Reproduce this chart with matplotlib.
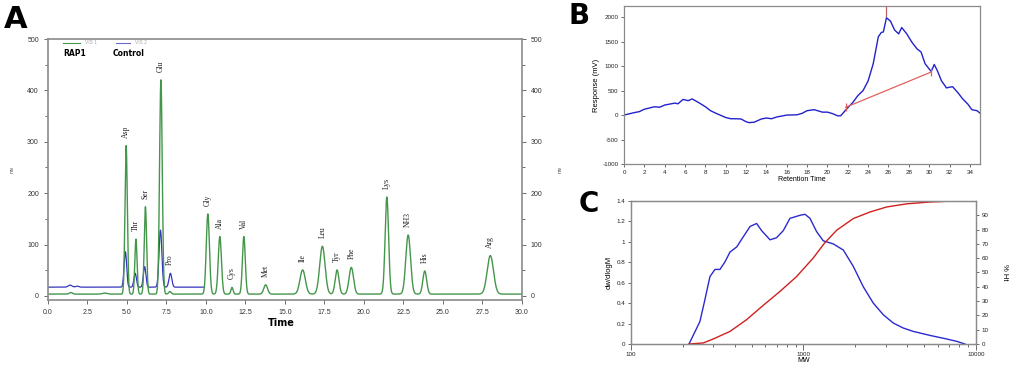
import numpy as np
import matplotlib
matplotlib.use("Agg")
import matplotlib.pyplot as plt
from matplotlib.ticker import FixedLocator, NullFormatter

plt.rcParams['font.family'] = ['Liberation Sans', 'DejaVu Sans']
plt.rcParams['axes.unicode_minus'] = False

# ---------------------------------------------------------------------------
# Panel A: amino acid chromatogram, peak table (time min, height mV, sigma min)
aa_names = ['Asp', 'Thr', 'Ser', 'Glu', 'Pro', 'Gly', 'Ala', 'Cys', 'Val', 'Met',
            'Ile', 'Leu', 'Tyr', 'Phe', 'Lys', 'NH3', 'His', 'Arg']
rap1_time = [4.95, 5.57, 6.17, 7.15, 7.72, 10.12, 10.88, 11.65, 12.40, 13.78,
             16.12, 17.37, 18.30, 19.20, 21.45, 22.80, 23.85, 28.00]
rap1_height = [289, 107, 170, 417, 5, 156, 112, 13, 112, 18,
               47, 93, 47, 52, 189, 115, 45, 75]
rap1_sigma = [0.075, 0.07, 0.075, 0.085, 0.08, 0.10, 0.10, 0.07, 0.09, 0.12,
              0.17, 0.17, 0.12, 0.14, 0.11, 0.15, 0.12, 0.20]
rap1_baseline = 3.5
# small baseline bumps of the RAP1 trace
rap1_bump_time = [1.45, 3.6]
rap1_bump_height = [3, 2]

ctrl_time = [1.40, 1.85, 4.90, 5.52, 6.12, 7.12, 7.75]
ctrl_height = [4, 2, 69, 27, 40, 111, 27]
ctrl_sigma = [0.12, 0.10, 0.08, 0.08, 0.08, 0.09, 0.09]
ctrl_baseline = 17
ctrl_end = 9.9

# label height above peak (mV) for each amino acid label
label_peak = [292, 111, 174, 420, 45, 160, 116, 17, 116, 22,
              51, 97, 51, 56, 193, 119, 49, 79]

# ---------------------------------------------------------------------------
# Panel B: response vs retention time
b_time = [0, 1, 1.5, 2, 3, 3.5, 4, 5, 5.3, 5.8, 6.3, 6.7, 7.3, 8, 8.5, 9, 10,
          10.5, 11, 11.5, 12, 12.3, 12.8, 13.5, 14, 14.5, 15, 16, 17, 17.5, 18,
          18.7, 19.5, 20, 20.5, 21, 21.3, 21.8, 22.5, 23, 23.5, 24, 24.5, 25,
          25.3, 25.5, 25.8, 26.2, 26.6, 27, 27.3, 27.8, 28.3, 28.8, 29.2, 29.6,
          30.2, 30.5, 30.8, 31.2, 31.7, 32, 32.3, 32.8, 33.3, 33.8, 34.2, 34.7, 35]
b_resp = [0, 50, 70, 120, 170, 160, 205, 245, 230, 320, 295, 330, 260, 170, 90,
          40, -50, -75, -75, -80, -135, -155, -145, -80, -60, -75, -40, 0, 5, 35,
          90, 110, 60, 60, 30, -15, -15, 105, 260, 400, 500, 700, 1050, 1600,
          1690, 1700, 1990, 1920, 1740, 1660, 1790, 1660, 1490, 1355, 1290, 1050,
          890, 1035, 910, 705, 555, 570, 580, 465, 330, 225, 110, 90, 40]
b_base_time = [21.8, 30.2]
b_base_resp = [160, 880]
b_apex_time = 25.75

# ---------------------------------------------------------------------------
# Panel C: molecular weight distribution
c_mw = [217, 235, 251, 268, 287, 307, 328, 351, 375, 410, 448, 490, 535, 572,
        640, 698, 764, 835, 955, 1021, 1091, 1192, 1303, 1489, 1702, 1945, 2223,
        2541, 2904, 3319, 3793, 4335, 5412, 6761, 7727, 8633]
c_dwdlogm = [0, 0.12, 0.22, 0.43, 0.66, 0.73, 0.73, 0.805, 0.90, 0.95, 1.05,
             1.15, 1.18, 1.11, 1.02, 1.04, 1.11, 1.23, 1.26, 1.27, 1.23, 1.10,
             1.01, 0.98, 0.92, 0.76, 0.56, 0.40, 0.286, 0.205, 0.156, 0.123,
             0.084, 0.049, 0.026, 0]
c_cum_mw = [217, 262, 300, 375, 468, 584, 730, 910, 1137, 1330, 1560, 1945,
            2430, 3030, 3960, 5410, 6760, 8630]
c_cum_pct = [0, 0.7, 3.5, 8.8, 17, 27, 36.7, 47, 60, 70.8, 79.6, 87.7, 92.3,
             95.8, 98, 99.3, 99.8, 100]


def trace(t, times, heights, sigmas):
    y = np.zeros_like(t)
    for t0, h, s in zip(times, heights, sigmas):
        y += h * np.exp(-0.5 * ((t - t0) / s) ** 2)
    return y


fig = plt.figure(figsize=(10.2, 3.75), dpi=100)

# ---------------------------------------------------------------- Panel A
axA = fig.add_axes([0.047, 0.2, 0.4647, 0.696])
t = np.linspace(0, 30, 6000)
green = rap1_baseline + trace(t, rap1_time, rap1_height, rap1_sigma) \
    + trace(t, rap1_bump_time, rap1_bump_height, [0.1, 0.15])
tb = t[t <= ctrl_end]
blue = ctrl_baseline + trace(tb, ctrl_time, ctrl_height, ctrl_sigma)

axA.plot(tb, blue, color='#3535c0', lw=0.9)
axA.plot(t, green, color='#44964a', lw=1.0)

for name, x0, yp in zip(aa_names, rap1_time, label_peak):
    axA.text(x0, yp + 15, name, rotation=90, ha='center', va='bottom',
             fontsize=5.5, family='Liberation Serif', color='#222222')

axA.set_xlim(0, 30)
axA.set_ylim(-8, 500)
axA.set_xticks(np.arange(0, 30.1, 2.5))
axA.set_xticklabels(['%.1f' % v for v in np.arange(0, 30.1, 2.5)])
axA.set_yticks(np.arange(0, 501, 100))
axA.yaxis.set_minor_locator(FixedLocator(np.arange(50, 500, 100)))
axA.tick_params(axis='both', which='both', direction='out', labelsize=5,
                colors='#555555', labelcolor='#333333', width=0.6)
axA.tick_params(axis='y', which='major', length=3, right=True, labelright=True)
axA.tick_params(axis='y', which='minor', length=2, right=True)
axA.tick_params(axis='x', length=3)
for sp in axA.spines.values():
    sp.set_color('#8a8a8a')
    sp.set_linewidth(1.2)

fig.text(0.276, 0.139, 'Time', fontsize=7, fontweight='bold', ha='center',
         va='center', family='DejaVu Sans')
fig.text(0.0118, 0.547, 'mv', fontsize=4, rotation=90, ha='center',
         va='center', color='#555555')
fig.text(0.549, 0.547, 'mv', fontsize=4, rotation=90, ha='center',
         va='center', color='#555555')

# legend
axA.plot([0.032, 0.068], [0.985, 0.985], transform=axA.transAxes,
         color='#44964a', lw=0.8, clip_on=False)
axA.text(0.078, 0.985, 'VIS 1', transform=axA.transAxes, fontsize=3.5,
         color='#aaaaaa', va='center')
axA.plot([0.143, 0.173], [0.985, 0.985], transform=axA.transAxes,
         color='#6a6ad0', lw=0.8, clip_on=False)
axA.text(0.184, 0.985, 'VIS 2', transform=axA.transAxes, fontsize=3.5,
         color='#aaaaaa', va='center')
axA.text(0.032, 0.946, 'RAP1', transform=axA.transAxes, fontsize=5.5,
         fontweight='bold', va='center', family='DejaVu Sans')
axA.text(0.137, 0.946, 'Control', transform=axA.transAxes, fontsize=5.5,
         fontweight='bold', va='center', family='DejaVu Sans')

# ---------------------------------------------------------------- Panel B
axB = fig.add_axes([0.6118, 0.5627, 0.349, 0.4213])
axB.plot(b_time, b_resp, color='#2222cc', lw=1.0)
axB.plot(b_base_time, b_base_resp, color='#e06060', lw=0.9, marker='|',
         markersize=6, markeredgewidth=0.9)
axB.plot([b_apex_time, b_apex_time], [2030, 2230], color='#c06060', lw=0.9,
         clip_on=False)
axB.set_xlim(0, 35)
axB.set_ylim(-1000, 2230)
axB.set_xticks(np.arange(0, 35, 2))
axB.set_yticks(np.arange(-1000, 2001, 500))
axB.tick_params(axis='both', direction='out', labelsize=4.5, length=2.5,
                width=0.6, colors='#555555', labelcolor='#222222', pad=1.5)
for sp in axB.spines.values():
    sp.set_color('#8a8a8a')
    sp.set_linewidth(0.9)
axB.set_xlabel('Retention Time', fontsize=5, labelpad=1)
axB.set_ylabel('Response (mV)', fontsize=5.5, labelpad=2)

# ---------------------------------------------------------------- Panel C
axC = fig.add_axes([0.6186, 0.0827, 0.3382, 0.3813])
axC.plot(c_mw, c_dwdlogm, color='#2a2ad0', lw=1.0)
axC.set_xscale('log')
axC.set_xlim(100, 10000)
axC.set_ylim(0, 1.4)
axC.set_yticks(np.arange(0, 1.41, 0.2))
axC.set_yticklabels(['0', '0.2', '0.4', '0.6', '0.8', '1', '1.2', '1.4'])
axC.set_xticks([100, 1000, 10000])
axC.set_xticklabels(['100', '1000', '10000'])
axC.xaxis.set_minor_formatter(NullFormatter())
axC.tick_params(axis='both', which='major', direction='out', labelsize=4.5,
                length=4, width=0.6, colors='#555555', labelcolor='#222222',
                pad=1.5)
axC.tick_params(axis='x', which='minor', direction='out', length=2.5,
                width=0.6, colors='#555555')
axC.tick_params(axis='y', length=2.5)
axC.set_xlabel('MW', fontsize=5, labelpad=0)
axC.set_ylabel('dw/dlogM', fontsize=5.5, labelpad=3)

axC2 = axC.twinx()
axC2.plot(c_cum_mw, c_cum_pct, color='#d02020', lw=1.0)
axC2.set_ylim(0, 100)
axC2.set_yticks(np.arange(0, 91, 10))
axC2.tick_params(axis='y', direction='out', labelsize=4.5, length=2.5,
                 width=0.6, colors='#555555', labelcolor='#222222', pad=1.5)
axC2.set_ylabel('% Ht', fontsize=5.5, rotation=270, labelpad=14)
for a in (axC, axC2):
    for sp in a.spines.values():
        sp.set_color('#8a8a8a')
        sp.set_linewidth(0.9)

# ---------------------------------------------------------------- letters
fig.text(0.004, 0.949, 'A', fontsize=22, fontweight='bold', va='center',
         family='DejaVu Sans')
fig.text(0.557, 0.958, 'B', fontsize=20, fontweight='bold', va='center',
         family='DejaVu Sans')
fig.text(0.567, 0.456, 'C', fontsize=20, fontweight='bold', va='center',
         family='DejaVu Sans')

fig.savefig('out.png', dpi=100)
